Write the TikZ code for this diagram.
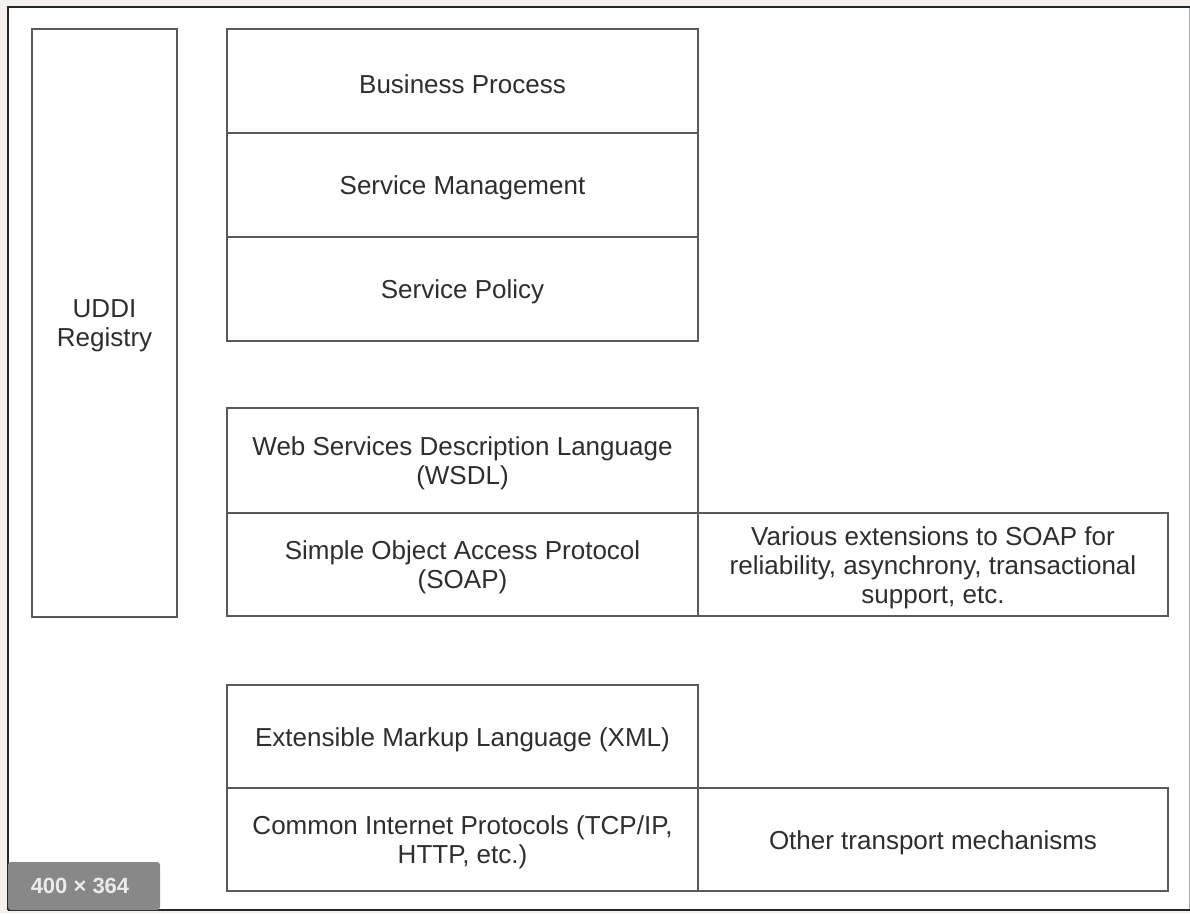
\documentclass[tikz,border=0pt]{standalone}
\usepackage{fontspec}
\setmainfont{Liberation Sans}
\begin{document}
\begin{tikzpicture}[x=1pt,y=-1pt,
  layer/.style={draw=linegray, line width=2pt, fill=white, inner sep=0pt, outer sep=0pt},
  caption/.style={text=textgray, align=center, inner sep=0pt, yshift=-3pt,
    font=\fontsize{26}{29}\selectfont},
  badge/.style={fill=badgegray, text=white!92!black, inner sep=0pt, font=\fontsize{22}{24}\selectfont\bfseries}]
\definecolor{linegray}{HTML}{5A5A5A}
\definecolor{textgray}{HTML}{2E2E2E}
\definecolor{badgegray}{HTML}{888888}
\definecolor{paper}{HTML}{F4F1EE}
% canvas and outer frame
\fill[paper] (0,0) rectangle (1190,913);
\useasboundingbox (0,0) rectangle (1190,913);
\fill[white] (8,7) rectangle (1190,910);
\draw[line width=0.8pt, black!35] (1189,7) -- (1189,910);
\draw[line width=2.2pt, black!85] (8,910) -- (8,7) -- (1190,7);
\draw[line width=2.2pt, black!85] (8,910) -- (1190,910);
% registry column
\node[layer, minimum width=145pt, minimum height=588pt] (uddi) at (104.5,323) {};
\node[caption] (uddi-t) at (uddi) {UDDI\\Registry};
% upper stack
\node[layer, minimum width=471pt, minimum height=104pt] (bp) at (462.5,81) {};
\node[caption] (bp-t) at (bp) {Business Process};
\node[layer, minimum width=471pt, minimum height=104pt] (sm) at (462.5,185) {};
\node[caption] (sm-t) at (sm) {Service Management};
\node[layer, minimum width=471pt, minimum height=104pt] (sp) at (462.5,289) {};
\node[caption] (sp-t) at (sp) {Service Policy};
% description and messaging
\node[layer, minimum width=471pt, minimum height=105pt] (wsdl) at (462.5,460.5) {};
\node[caption] (wsdl-t) at (wsdl) {Web Services Description Language\\(WSDL)};
\node[layer, minimum width=471pt, minimum height=103pt] (soap) at (462.5,564.5) {};
\node[caption] (soap-t) at (soap) {Simple Object Access Protocol\\(SOAP)};
\node[layer, minimum width=470pt, minimum height=103pt] (ext) at (933,564.5) {};
\node[caption] (ext-t) at (ext) {Various extensions to SOAP for\\reliability, asynchrony, transactional\\support, etc.};
% data format and transport
\node[layer, minimum width=471pt, minimum height=103pt] (xml) at (462.5,736.5) {};
\node[caption] (xml-t) at (xml) {Extensible Markup Language (XML)};
\node[layer, minimum width=471pt, minimum height=103pt] (cip) at (462.5,839.5) {};
\node[caption] (cip-t) at (cip) {Common Internet Protocols (TCP/IP,\\HTTP, etc.)};
\node[layer, minimum width=470pt, minimum height=103pt] (otm) at (933,839.5) {};
\node[caption] (otm-t) at (otm) {Other transport mechanisms};
% size badge
\fill[badgegray, rounded corners=3pt] (8,910) -- (8,862) -- (160,862) -- (160,910) -- cycle;
\node[badge, anchor=center] (size) at (80,886) {400 × 364};
\end{tikzpicture}
\end{document}
